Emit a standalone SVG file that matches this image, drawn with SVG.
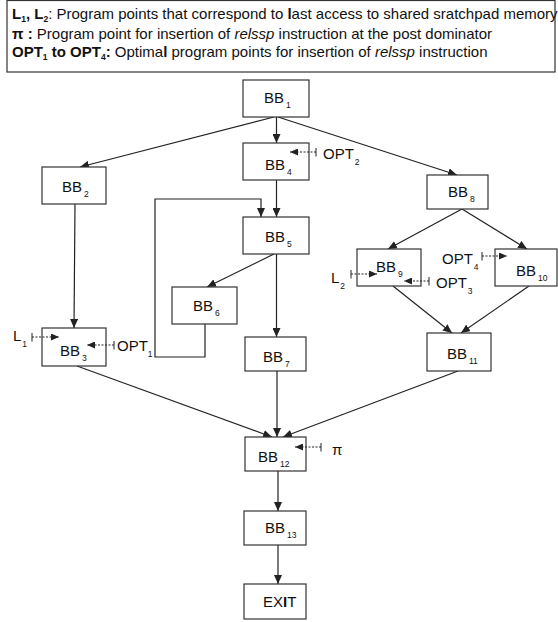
<svg xmlns="http://www.w3.org/2000/svg" width="558" height="622" viewBox="0 0 558 622">
<defs>
<marker id="ah" markerUnits="userSpaceOnUse" markerWidth="10" markerHeight="8" refX="9" refY="4" orient="auto"><path d="M0,0 L9,4 L0,8 Z" fill="#222"/></marker>
<marker id="dh" markerUnits="userSpaceOnUse" markerWidth="9" markerHeight="7" refX="8" refY="3.5" orient="auto"><path d="M0,0 L8,3.5 L0,7 Z" fill="#222"/></marker>
<marker id="tk" markerUnits="userSpaceOnUse" markerWidth="2" markerHeight="9" refX="1" refY="4.5" orient="auto"><line x1="1" y1="0" x2="1" y2="9" stroke="#222" stroke-width="1"/></marker>
</defs>
<style>
.box{fill:#fff;stroke:#333;stroke-width:1.2}
.e{fill:none;stroke:#222;stroke-width:1.2;marker-end:url(#ah)}
.d{fill:none;stroke:#222;stroke-width:1.1;stroke-dasharray:2,1.5;marker-end:url(#dh);marker-start:url(#tk)}
text{font-family:"Liberation Sans",Arial,sans-serif;fill:#111}
.lb{font-size:15px}
.an{font-size:15px}
.sb{font-size:8.5px}
.lg{font-size:15px}
</style>
<g id="legend">
<rect x="7" y="0.5" width="548" height="71.5" fill="#fff" stroke="#333" stroke-width="1.2"/>
<text class="lg" x="12" y="19"><tspan font-weight="bold">L</tspan><tspan font-weight="bold" class="sb" dy="3">1</tspan><tspan font-weight="bold" dy="-3">, L</tspan><tspan font-weight="bold" class="sb" dy="3">2</tspan><tspan dy="-3">: Program points that correspond to </tspan><tspan font-weight="bold">l</tspan>ast access to shared sratchpad memory</text>
<text class="lg" x="12" y="39"><tspan font-weight="bold">π :</tspan>  Program point for insertion of <tspan font-style="italic">relssp</tspan> instruction at the post dominator</text>
<text class="lg" x="12" y="57"><tspan font-weight="bold">OPT</tspan><tspan font-weight="bold" class="sb" dy="3">1</tspan><tspan font-weight="bold" dy="-3"> to OPT</tspan><tspan font-weight="bold" class="sb" dy="3">4</tspan><tspan font-weight="bold" dy="-3">:</tspan> Optima<tspan font-weight="bold">l</tspan> program points for insertion of <tspan font-style="italic">relssp</tspan> instruction</text>
</g>
<g id="connectors">
<line class="e" x1="274" y1="117" x2="80" y2="167"/>
<line class="e" x1="276.5" y1="117" x2="276.5" y2="143"/>
<line class="e" x1="278" y1="117" x2="457" y2="175"/>
<line class="e" x1="276.5" y1="180" x2="276.5" y2="217"/>
<line class="e" x1="274" y1="254" x2="207" y2="287"/>
<line class="e" x1="276.5" y1="254" x2="276.5" y2="337"/>
<polyline class="e" points="205,324 205,357 155,357 155,199 261,199 261,217"/>
<line class="e" x1="75" y1="204" x2="74" y2="328"/>
<line class="e" x1="462" y1="209" x2="388" y2="249"/>
<line class="e" x1="462" y1="209" x2="527" y2="249"/>
<line class="e" x1="393" y1="286" x2="452" y2="333"/>
<line class="e" x1="529" y1="286" x2="461" y2="333"/>
<line class="e" x1="77" y1="366" x2="272" y2="437"/>
<line class="e" x1="277" y1="371" x2="277" y2="437"/>
<line class="e" x1="458" y1="371" x2="283" y2="437"/>
<line class="e" x1="278" y1="471" x2="278" y2="511"/>
<line class="e" x1="278" y1="545" x2="278" y2="584"/>
</g>
<g id="BB1"><rect class="box" x="243" y="80" width="66" height="37"/><text class="lb" x="264" y="103">BB<tspan class="sb" dx="2" dy="5">1</tspan></text></g>
<g id="BB4"><rect class="box" x="243" y="143" width="66" height="37"/><text class="lb" x="265" y="170">BB<tspan class="sb" dx="2" dy="5">4</tspan></text></g>
<g id="BB5"><rect class="box" x="243" y="217" width="66" height="37"/><text class="lb" x="265" y="242">BB<tspan class="sb" dx="2" dy="5">5</tspan></text></g>
<g id="BB2"><rect class="box" x="42" y="167" width="64" height="37"/><text class="lb" x="62" y="192">BB<tspan class="sb" dx="2" dy="5">2</tspan></text></g>
<g id="BB3"><rect class="box" x="42" y="328" width="64" height="38"/><text class="lb" x="60" y="356">BB<tspan class="sb" dx="2" dy="5">3</tspan></text></g>
<g id="BB6"><rect class="box" x="172" y="287" width="65" height="37"/><text class="lb" x="193" y="311">BB<tspan class="sb" dx="2" dy="5">6</tspan></text></g>
<g id="BB7"><rect class="box" x="245" y="337" width="61" height="34"/><text class="lb" x="263" y="362">BB<tspan class="sb" dx="2" dy="5">7</tspan></text></g>
<g id="BB8"><rect class="box" x="427" y="175" width="61" height="34"/><text class="lb" x="448" y="197">BB<tspan class="sb" dx="2" dy="5">8</tspan></text></g>
<g id="BB9"><rect class="box" x="357" y="249" width="64" height="37"/><text class="lb" x="376" y="272">BB<tspan class="sb" dx="2" dy="5">9</tspan></text></g>
<g id="BB10"><rect class="box" x="495" y="249" width="62" height="37"/><text class="lb" x="516" y="276">BB<tspan class="sb" dx="2" dy="5">10</tspan></text></g>
<g id="BB11"><rect class="box" x="427" y="333" width="64" height="38"/><text class="lb" x="447" y="359">BB<tspan class="sb" dx="2" dy="5">11</tspan></text></g>
<g id="BB12"><rect class="box" x="245" y="437" width="61" height="34"/><text class="lb" x="258" y="462">BB<tspan class="sb" dx="2" dy="5">12</tspan></text></g>
<g id="BB13"><rect class="box" x="244" y="511" width="62" height="34"/><text class="lb" x="265" y="533">BB<tspan class="sb" dx="2" dy="5">13</tspan></text></g>
<g id="EXIT"><rect class="box" x="244" y="584" width="62" height="35"/><text class="lb" x="263" y="607">EX<tspan font-weight="bold">I</tspan>T</text></g>
<g id="annotations">
<line class="d" x1="316" y1="152" x2="290" y2="152"/>
<text class="an" x="323" y="159">OPT<tspan class="sb" dx="1" dy="6">2</tspan></text>
<line class="d" x1="32" y1="337" x2="59" y2="337"/>
<text class="an" x="13" y="341">L<tspan class="sb" dx="1" dy="6">1</tspan></text>
<line class="d" x1="114" y1="345" x2="87" y2="345"/>
<text class="an" x="117" y="351">OPT<tspan class="sb" dx="0" dy="6">1</tspan></text>
<line class="d" x1="351" y1="274" x2="377" y2="274"/>
<text class="an" x="331" y="283">L<tspan class="sb" dx="1" dy="6">2</tspan></text>
<line class="d" x1="429" y1="281" x2="404" y2="281"/>
<text class="an" x="436" y="288">OPT<tspan class="sb" dx="1" dy="6">3</tspan></text>
<line class="d" x1="482" y1="256" x2="507" y2="256"/>
<text class="an" x="442" y="264">OPT<tspan class="sb" dx="1" dy="6">4</tspan></text>
<line class="d" x1="321" y1="447" x2="295" y2="447"/>
<text class="an" x="332" y="455">π</text>
</g>
</svg>
